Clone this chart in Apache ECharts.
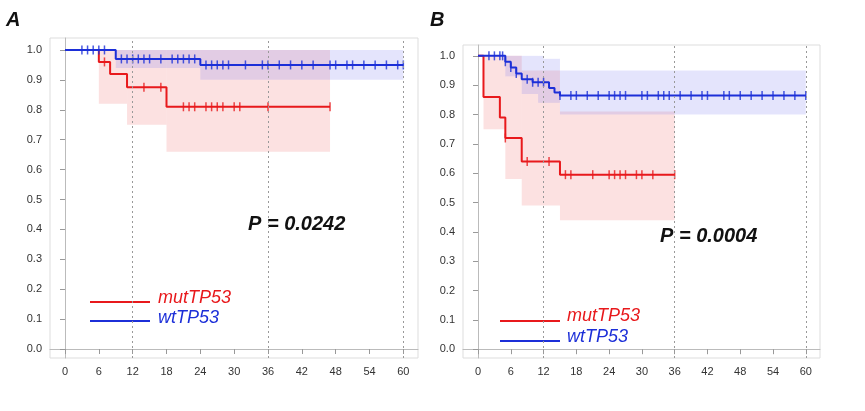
<!DOCTYPE html><html><head><meta charset="utf-8"><script src="https://cdn.jsdelivr.net/npm/echarts@6/dist/echarts.min.js"></script>
<style>html,body{margin:0;background:#fff}#c{width:865px;height:411px}</style></head><body><div id="c"></div><script>
// [time, survival]
const aMut=[[0,1],[6,0.96],[8,0.92],[11,0.875],[18,0.81],[47,0.81]];
const aMutLo=[[0,1],[6,0.82],[11,0.75],[18,0.66],[47,0.66]];
const aMutHi=[[0,1],[6,1],[47,1]];
const aMutCens=[7,14,17,21,22,23,25,26,27,28,30,31,36,47];
const aWt=[[0,1],[9,0.97],[24,0.95],[60,0.95]];
const aWtLo=[[0,1],[9,0.94],[24,0.9],[60,0.9]];
const aWtHi=[[0,1],[60,1]];
const aWtCens=[3,4,5,6,7,10,11,12,13,14,15,17,19,20,21,22,23,25,26,27,28,29,32,35,36,38,40,42,44,47,48,50,51,53,55,57,59,60];
const bMut=[[0,1],[1,0.86],[4,0.79],[5,0.72],[8,0.64],[15,0.595],[36,0.595]];
const bMutLo=[[0,1],[1,0.75],[5,0.58],[8,0.49],[15,0.44],[36,0.44]];
const bMutHi=[[0,1],[8,0.95],[15,0.81],[36,0.81]];
const bMutCens=[5,9,13,16,17,21,24,25,26,27,29,30,32,36];
const bWt=[[0,1],[5,0.98],[6,0.96],[7,0.94],[8,0.92],[10,0.91],[13,0.89],[14,0.875],[15,0.865],[60,0.865]];
const bWtLo=[[0,1],[5,0.93],[8,0.87],[11,0.84],[15,0.8],[60,0.79]];
const bWtHi=[[0,1],[12,0.99],[15,0.95],[60,0.95]];
const bWtCens=[2,3,4,4.5,5,6,7,9,10,11,12,15,17,18,20,22,24,25,26,27,30,31,33,34,35,37,39,41,42,45,46,48,50,52,54,56,58,60];
const xTicks=[0,6,12,18,24,30,36,42,48,54,60];
const yTicks=[0,0.1,0.2,0.3,0.4,0.5,0.6,0.7,0.8,0.9,1.0];
const refLines=[12,36,60];
const RED='#e8191c',BLUE='#1c2fd8';
function valAt(curve,t){let v=curve[0][1];for(const p of curve){if(p[0]<=t)v=p[1];}return v;}
function band(lo,hi,gi,color){
  const ts=[...new Set([...lo.map(p=>p[0]),...hi.map(p=>p[0])])].sort((a,b)=>a-b);
  const data=[];
  for(let i=0;i<ts.length-1;i++)data.push([ts[i],ts[i+1],valAt(lo,ts[i]),valAt(hi,ts[i])]);
  return {type:'custom',xAxisIndex:gi,yAxisIndex:gi,z:1,silent:true,data,
    renderItem:(p,api)=>{const a=api.coord([api.value(0),api.value(3)]),b=api.coord([api.value(1),api.value(2)]);
      return {type:'rect',shape:{x:a[0],y:a[1],width:b[0]-a[0],height:b[1]-a[1]},style:{fill:color}};}};
}
function curve(c,cens,gi,color){
  return [
    {type:'line',xAxisIndex:gi,yAxisIndex:gi,step:'end',symbol:'none',lineStyle:{color:color,width:2},data:c,z:3},
    {type:'scatter',xAxisIndex:gi,yAxisIndex:gi,symbol:'rect',symbolSize:[1.5,9],itemStyle:{color:color},data:cens.map(t=>[t,valAt(c,t)]),z:4}
  ];
}
function refs(gi){return {type:'line',xAxisIndex:gi,yAxisIndex:gi,data:[],markLine:{silent:true,symbol:'none',label:{show:false},lineStyle:{color:'#999',type:[2,3],width:1},data:refLines.map(x=>({xAxis:x}))}};}
function xAx(gi,min,max){return {type:'value',gridIndex:gi,min,max,splitLine:{show:false},axisLine:{lineStyle:{color:'#bbb'}},axisTick:{customValues:xTicks,lineStyle:{color:'#999'}},axisLabel:{customValues:xTicks,color:'#333',fontSize:11,fontFamily:'Liberation Sans'}};}
function yAx(gi,min,max){return {type:'value',gridIndex:gi,min,max,splitLine:{show:false},axisLine:{show:true,lineStyle:{color:'#bbb'}},axisTick:{show:true,customValues:yTicks,lineStyle:{color:'#999'}},axisLabel:{customValues:yTicks,color:'#333',fontSize:11,fontFamily:'Liberation Sans',formatter:v=>v.toFixed(1)}};}
const chart=echarts.init(document.getElementById('c'));
const tx=(x,y,t,st)=>({type:'text',left:x,top:y,style:Object.assign({text:t,fontFamily:'Liberation Sans',fontStyle:'italic'},st)});
const leg=(x,y,c)=>({type:'line',shape:{x1:x,y1:y,x2:x+60,y2:y},style:{stroke:c,lineWidth:2}});
chart.setOption({
  animation:false,
  grid:[{left:50,top:38,width:368,height:320,show:true,borderColor:'#ddd'},{left:463,top:45,width:357,height:313,show:true,borderColor:'#ddd'}],
  xAxis:[xAx(0,-2.66,62.6),xAx(1,-2.75,62.6)],
  yAxis:[yAx(0,-0.03,1.04),yAx(1,-0.03,1.037)],
  series:[
    band(aMutLo,aMutHi,0,'rgba(240,120,120,0.22)'),
    band(aWtLo,aWtHi,0,'rgba(120,120,240,0.2)'),
    band(bMutLo,bMutHi,1,'rgba(240,120,120,0.22)'),
    band(bWtLo,bWtHi,1,'rgba(120,120,240,0.2)'),
    refs(0),refs(1),
    ...curve(aMut,aMutCens,0,RED),...curve(aWt,aWtCens,0,BLUE),
    ...curve(bMut,bMutCens,1,RED),...curve(bWt,bWtCens,1,BLUE)
  ],
  graphic:[
    tx(6,10,'A',{fontSize:20,fontWeight:'bold',fill:'#111'}),
    tx(430,10,'B',{fontSize:20,fontWeight:'bold',fill:'#111'}),
    tx(248,214,'P = 0.0242',{fontSize:20,fontWeight:'bold',fill:'#111'}),
    tx(660,226,'P = 0.0004',{fontSize:20,fontWeight:'bold',fill:'#111'}),
    leg(90,302,RED),leg(90,321,BLUE),
    tx(158,289,'mutTP53',{fontSize:18,fill:RED}),tx(158,309,'wtTP53',{fontSize:18,fill:BLUE}),
    leg(500,321,RED),leg(500,341,BLUE),
    tx(567,307,'mutTP53',{fontSize:18,fill:RED}),tx(567,328,'wtTP53',{fontSize:18,fill:BLUE})
  ]
});
</script></body></html>
